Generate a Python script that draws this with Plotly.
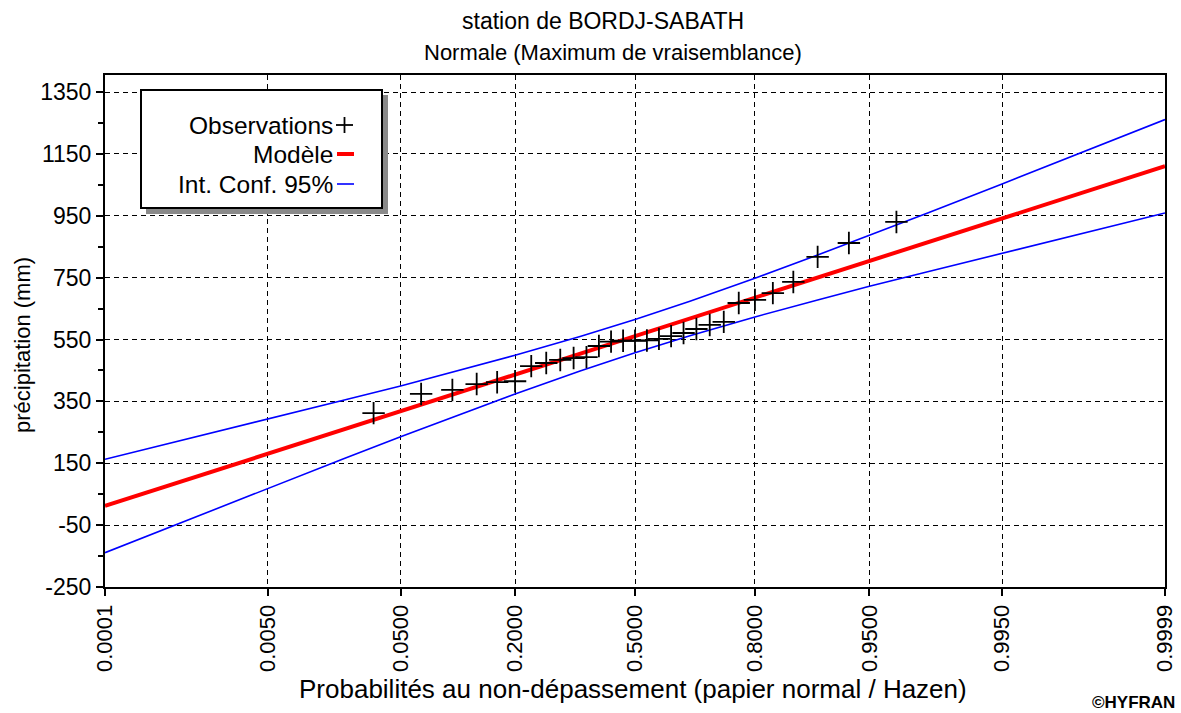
from statistics import NormalDist
import plotly.graph_objects as go

# ---------------- data ----------------
obs_prob = [0.0333, 0.0667, 0.1000, 0.1333, 0.1667, 0.2000, 0.2333, 0.2667, 0.3000, 0.3333,
            0.3667, 0.4000, 0.4333, 0.4667, 0.5000, 0.5333, 0.5667, 0.6000, 0.6333, 0.6667,
            0.7000, 0.7333, 0.7667, 0.8000, 0.8333, 0.8667, 0.9000, 0.9333, 0.9667]
obs_value = [312, 374, 387, 406, 412, 415, 464, 474, 484, 490,
             493, 529, 543, 546, 546, 547, 552, 561, 571, 584,
             597, 607, 668, 678, 700, 736, 817, 862, 930]

model_prob = [0.0001, 0.9999]
model_value = [12, 1110]

ci_prob = [0.0001, 0.001, 0.005, 0.02, 0.05, 0.1, 0.2, 0.35, 0.5,
           0.65, 0.8, 0.9, 0.95, 0.98, 0.995, 0.999, 0.9999]
ci_upper = [163, 234, 293, 353, 400, 444, 499, 560, 615,
            674, 748, 823, 886, 959, 1053, 1146, 1261]
ci_lower = [-139, -24, 69, 163, 236, 299, 374, 448, 507,
            562, 623, 678, 722, 769, 829, 888, 959]

x_tick_prob = [0.0001, 0.005, 0.05, 0.2, 0.5, 0.8, 0.95, 0.995, 0.9999]
x_tick_text = ["0.0001", "0.0050", "0.0500", "0.2000", "0.5000", "0.8000", "0.9500", "0.9950", "0.9999"]
y_tick_vals = [-250, -50, 150, 350, 550, 750, 950, 1150, 1350]
y_tick_text = ["-250", "-50", "150", "350", "550", "750", "950", "1150", "1350"]
y_minor_vals = [-150, 50, 250, 450, 650, 850, 1050, 1250]

title_line1 = "station de BORDJ-SABATH"
title_line2 = "Normale (Maximum de vraisemblance)"
x_title = "Probabilités au non-dépassement (papier normal / Hazen)"
y_title = "précipitation (mm)"
legend_labels = ["Observations", "Modèle", "Int. Conf. 95%"]

# ---------------- helpers ----------------
nd = NormalDist()
def z(ps):
    return [nd.inv_cdf(p) for p in ps]

FONT = "Liberation Sans, Arial, sans-serif"
W, H = 1181, 713
L, R, T, B = 105, 16, 75, 126
PW, PH = W - L - R, H - T - B

def px(xp):  # pixel -> paper x
    return (xp - L) / PW
def py(yp):  # pixel -> paper y
    return (H - B - yp) / PH

fig = go.Figure()
fig.add_trace(go.Scatter(x=z(ci_prob), y=ci_upper, mode="lines",
                         line=dict(color="#0000ff", width=1.6), hoverinfo="skip"))
fig.add_trace(go.Scatter(x=z(ci_prob), y=ci_lower, mode="lines",
                         line=dict(color="#0000ff", width=1.6), hoverinfo="skip"))
fig.add_trace(go.Scatter(x=z(model_prob), y=model_value, mode="lines",
                         line=dict(color="#ff0000", width=4)))
fig.add_trace(go.Scatter(x=z(obs_prob), y=obs_value, mode="markers",
                         marker=dict(symbol="cross-thin", size=16,
                                     line=dict(color="black", width=1.8))))

xr = z([x_tick_prob[0], x_tick_prob[-1]])

fig.update_layout(
    width=W, height=H,
    margin=dict(l=L, r=R, t=T, b=B, pad=0, autoexpand=False),
    plot_bgcolor="white", paper_bgcolor="white",
    showlegend=False,
    font=dict(family=FONT, color="black", size=22),
    xaxis=dict(range=xr, tickvals=z(x_tick_prob), ticktext=x_tick_text, tickangle=-90,
               automargin=False,
               ticks="outside", ticklen=7, tickwidth=1.5, tickcolor="black",
               showline=True, linecolor="black", linewidth=2, mirror=True,
               showgrid=True, gridcolor="black", gridwidth=1, griddash="5px,4px",
               zeroline=False, tickfont=dict(size=22, family=FONT, color="black")),
    yaxis=dict(range=[-250, 1405], tickvals=y_tick_vals, ticktext=y_tick_text,
               automargin=False,
               ticks="outside", ticklen=7, tickwidth=1.5, tickcolor="black",
               minor=dict(tickvals=y_minor_vals, ticks="outside", ticklen=5,
                          tickcolor="black", tickwidth=1.5, showgrid=False),
               showline=True, linecolor="black", linewidth=2, mirror=True,
               showgrid=True, gridcolor="black", gridwidth=1, griddash="5px,4px",
               zeroline=False, tickfont=dict(size=23, family=FONT, color="black")),
)

ann = []
ann.append(dict(text=title_line1, x=px(603), y=py(21), xref="paper", yref="paper",
                showarrow=False, xanchor="center", yanchor="middle",
                font=dict(size=23, family=FONT, color="black")))
ann.append(dict(text=title_line2, x=px(613), y=py(52), xref="paper", yref="paper",
                showarrow=False, xanchor="center", yanchor="middle",
                font=dict(size=22, family=FONT, color="black")))
ann.append(dict(text=x_title, x=px(633), y=py(689), xref="paper", yref="paper",
                showarrow=False, xanchor="center", yanchor="middle",
                font=dict(size=26, family=FONT, color="black")))
ann.append(dict(text=y_title, x=px(22), y=py(345), xref="paper", yref="paper",
                showarrow=False, xanchor="center", yanchor="middle", textangle=-90,
                font=dict(size=22, family=FONT, color="black")))
ann.append(dict(text="<b>©HYFRAN</b>", x=px(1177), y=py(702), xref="paper", yref="paper",
                showarrow=False, xanchor="right", yanchor="middle",
                font=dict(size=17, family=FONT, color="black")))

# legend box (drawn manually to match the reference's boxed legend)
shapes = []
shapes.append(dict(type="rect", xref="paper", yref="paper",
                   x0=px(146), x1=px(388), y0=py(95), y1=py(214),
                   fillcolor="#8a8a8a", line=dict(width=0), layer="above"))
shapes.append(dict(type="rect", xref="paper", yref="paper",
                   x0=px(141), x1=px(382), y0=py(90), y1=py(208),
                   fillcolor="white", line=dict(color="black", width=2), layer="above"))
# + symbol
shapes.append(dict(type="line", xref="paper", yref="paper",
                   x0=px(336), x1=px(353), y0=py(125), y1=py(125),
                   line=dict(color="black", width=1.8), layer="above"))
shapes.append(dict(type="line", xref="paper", yref="paper",
                   x0=px(344.5), x1=px(344.5), y0=py(117), y1=py(133),
                   line=dict(color="black", width=1.8), layer="above"))
# red / blue segments
shapes.append(dict(type="line", xref="paper", yref="paper",
                   x0=px(337), x1=px(354), y0=py(154), y1=py(154),
                   line=dict(color="#ff0000", width=4), layer="above"))
shapes.append(dict(type="line", xref="paper", yref="paper",
                   x0=px(337), x1=px(354), y0=py(184), y1=py(184),
                   line=dict(color="#0000ff", width=1.6), layer="above"))
for lab, yy in zip(legend_labels, [125, 154, 184]):
    ann.append(dict(text=lab, x=px(335), y=py(yy), xref="paper", yref="paper",
                    showarrow=False, xanchor="right", yanchor="middle",
                    font=dict(size=24.5, family=FONT, color="black")))

fig.update_layout(annotations=ann, shapes=shapes)
fig.write_html("out.html")
